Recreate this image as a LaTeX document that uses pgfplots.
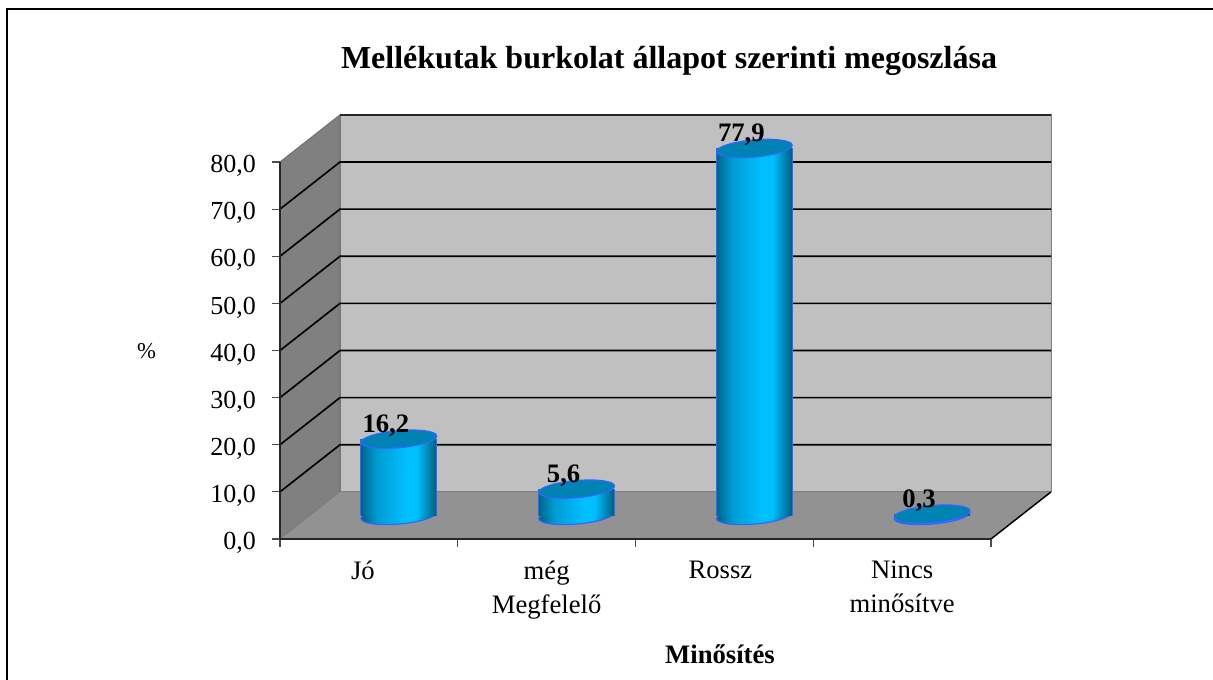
\documentclass[border=0pt]{standalone}
\usepackage{fontspec}
\setmainfont{Liberation Serif}
\usepackage{pgfplots}
\usepackage{pgfplotstable}
\pgfplotsset{compat=1.18}
\definecolor{wallback}{HTML}{C0C0C0}
\definecolor{wallleft}{HTML}{808080}
\definecolor{wallfloor}{HTML}{929292}
\definecolor{edgeblue}{HTML}{3366FF}
\definecolor{captop}{HTML}{0082B2}
\definecolor{cyla}{HTML}{00648C}
\definecolor{cylb}{HTML}{009BD2}
\definecolor{cylc}{HTML}{00BFFF}
\definecolor{cyld}{HTML}{005A7D}
\pgfdeclarehorizontalshading{cyl}{100bp}{
  color(0bp)=(cyla);
  color(25bp)=(cyla);
  color(35bp)=(cylb);
  color(55bp)=(cylc);
  color(62bp)=(cylc);
  color(75bp)=(cyld);
  color(100bp)=(cyld)}
\pgfdeclareplotmark{captop}{%
  \pgftransformrotate{5}%
  \pgfpathellipse{\pgfpointorigin}{\pgfqpoint{28.5pt}{0pt}}{\pgfqpoint{0pt}{6.4pt}}%
  \pgfusepathqfillstroke}
\pgfdeclareplotmark{capbottom}{%
  \pgftransformrotate{5}%
  \pgfpathellipse{\pgfpointorigin}{\pgfqpoint{28.5pt}{0pt}}{\pgfqpoint{0pt}{6.4pt}}%
  \pgfshadepath{cyl}{-5}%
  \pgfusepath{stroke}}
\pgfplotstableread{
x v
0 16.2
1 5.6
2 77.9
3 0.3
}\bardata
\pgfplotsset{
  barframe/.style={
    at={(232.5pt,123.375pt)}, anchor=south west,
    scale only axis, width=533.25pt, height=282.75pt,
    xmin=-0.5, xmax=3.5, ymin=0, ymax=80, clip=false,
    hide axis},
  cylbar/.style={ybar,bar shift=0pt,bar width=57pt,draw=none,shade,shading=cyl,forget plot},
  cylside/.style={draw=edgeblue,line width=0.9pt,no marks,forget plot}}
\begin{document}
\begin{tikzpicture}
\useasboundingbox (0pt,0pt) rectangle (909.75pt,510pt);
\draw[black,line width=0.9pt] (5.25pt,0pt) -- (5.25pt,503.2pt) -- (909.75pt,503.2pt);
% back planes, ticks and labels
\begin{axis}[
  at={(210pt,105.75pt)}, anchor=south west,
  scale only axis, width=533.25pt, height=282.75pt,
  xmin=-0.5, xmax=3.5, ymin=0, ymax=80, clip=false,
  axis on top=true,
  axis x line*=bottom, axis y line*=left,
  axis line style={draw=black!85,line width=1.1pt},
  tick align=outside,
  tick style={draw=black!70,line width=0.8pt},
  ytick={0,10,...,80},
  yticklabel={\pgfmathprintnumber[fixed,fixed zerofill,precision=1,use comma]{\tick}},
  /pgf/number format/assume math mode=true,
  xtick={0,1,2,3},
  xticklabels={Jó\hspace*{9pt},{még\\Megfelelő},Rossz\hspace*{6pt},{Nincs\\minősítve}},
  minor xtick={-0.5,0.5,1.5,2.5,3.5},
  major tick length=6pt, minor tick length=6pt,
  xtick style={draw=none}, minor x tick style={draw=black!70,line width=0.8pt},
  tick label style={font=\fontsize{19.5pt}{25.5pt}\selectfont},
  xticklabel style={align=center,yshift=-7pt,font=\fontsize{20pt}{25.5pt}\selectfont},
  yticklabel style={xshift=-8.5pt,yshift=-3pt},
]
\addplot[fill=wallback,draw=black!50,line width=0.6pt] coordinates {(-0.1624,10) (3.8376,10) (3.8376,90) (-0.1624,90)} -- cycle;
\addplot[fill=wallleft,draw=black!55,line width=0.8pt] coordinates {(-0.5,0) (-0.1624,10) (-0.1624,90) (-0.5,80)} -- cycle;
\addplot[fill=wallfloor,draw=black!50,line width=0.5pt] coordinates {(-0.5,0) (-0.1624,10) (3.8376,10) (3.5,0)} -- cycle;
\addplot[black,line width=1.1pt] coordinates {(3.5,0) (3.8376,10)};
\addplot[black!85,line width=1.2pt] coordinates {(-0.1624,90) (3.8376,90)};
\foreach \v/\w in {10/20,20/30,30/40,40/50,50/60,60/70,70/80}{
  \edef\temp{\noexpand\addplot[black,line width=1.25pt] coordinates {(-0.5,\v) (-0.1624,\w) (3.8376,\w)};}
  \temp
}
\end{axis}
% bottom rims of the cylinders
\begin{axis}[barframe]
\addplot[only marks,mark=capbottom,mark options={draw=edgeblue,line width=0.9pt}] table[x=x,y expr=0] {\bardata};
\end{axis}
% bars: same scales, moved half the depth into the chart
\begin{axis}[barframe]
\addplot[cylbar] coordinates {(0,16.2)};
\addplot[cylbar] coordinates {(1,5.6)};
\addplot[cylbar] coordinates {(2,77.9)};
\addplot[cylbar] coordinates {(3,0.3)};
\addplot[cylside] coordinates {(-0.2138,0) (-0.2138,16.2)};
\addplot[cylside] coordinates {(0.2138,0) (0.2138,16.2)};
\addplot[cylside] coordinates {(0.7862,0) (0.7862,5.6)};
\addplot[cylside] coordinates {(1.2138,0) (1.2138,5.6)};
\addplot[cylside] coordinates {(1.7862,0) (1.7862,77.9)};
\addplot[cylside] coordinates {(2.2138,0) (2.2138,77.9)};
\addplot[only marks,mark=captop,mark options={draw=edgeblue,fill=captop,line width=0.9pt},
  nodes near coords={\pgfmathprintnumber[fixed,fixed zerofill,precision=1,use comma,assume math mode=true]{\pgfplotspointmeta}},
  point meta=y,
  nodes near coords style={anchor=center,xshift=-9.75pt,yshift=10pt,font=\fontsize{20pt}{24pt}\selectfont\bfseries,inner sep=0pt}] table[x=x,y=v] {\bardata};
\end{axis}
\node[font=\fontsize{24pt}{28pt}\selectfont\bfseries] at (501.75pt,464.5pt) {Mellékutak burkolat állapot szerinti megoszlása};
\node[font=\fontsize{20pt}{24pt}\selectfont\bfseries] at (540pt,19pt) {Minősítés};
\node[font=\fontsize{17pt}{20pt}\selectfont] at (110pt,246.5pt) {\%};
\end{tikzpicture}
\end{document}
